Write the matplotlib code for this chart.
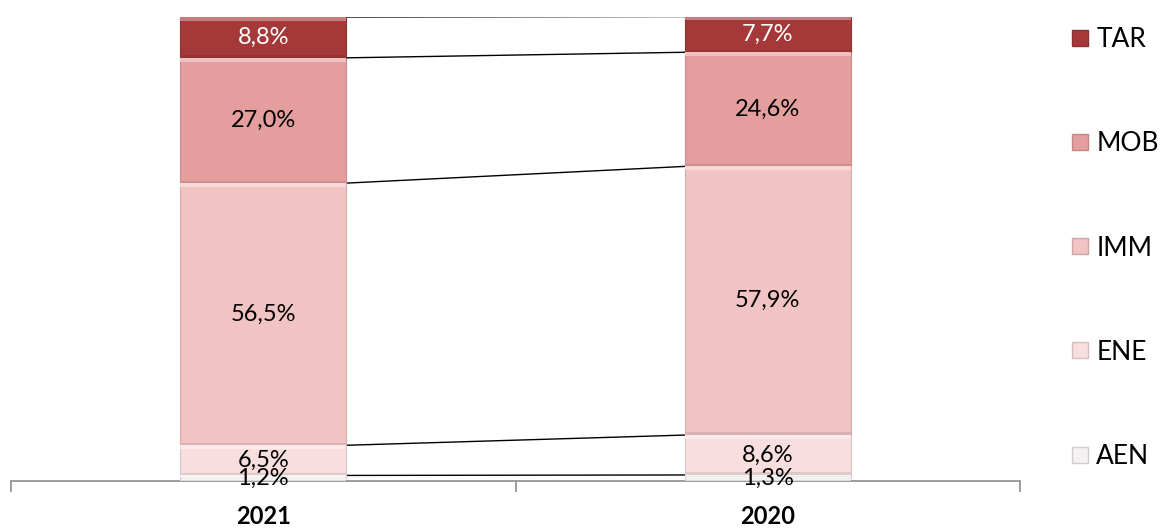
import numpy as np
import matplotlib.pyplot as plt
from matplotlib.patches import Rectangle
from matplotlib.lines import Line2D

plt.rcParams['font.family'] = ['Lato', 'DejaVu Sans']

# data (bottom to top)
years = ['2021', '2020']
series = ['AEN', 'ENE', 'IMM', 'MOB', 'TAR']
values = {
    'AEN': [1.2, 1.3],
    'ENE': [6.5, 8.6],
    'IMM': [56.5, 57.9],
    'MOB': [27.0, 24.6],
    'TAR': [8.8, 7.7],
}
colors = {
    'AEN': '#F3F1F1',
    'ENE': '#F8DEDE',
    'IMM': '#F2C3C3',
    'MOB': '#E59E9E',
    'TAR': '#A5393A',
}
text_colors = {'AEN': 'black', 'ENE': 'black', 'IMM': 'black', 'MOB': 'black', 'TAR': 'white'}


def lighten(c, f):
    rgb = np.array(plt.matplotlib.colors.to_rgb(c))
    return tuple(rgb + (1 - rgb) * f)


def darken(c, f):
    rgb = np.array(plt.matplotlib.colors.to_rgb(c))
    return tuple(rgb * (1 - f))


fig = plt.figure(figsize=(11.64, 5.30), dpi=100)
ax = fig.add_axes([11 / 1164, 1 - 481 / 530, 1009 / 1164, 464 / 530])

x = np.arange(len(years))
width = 0.33
bottom = np.zeros(len(years))
for s in series:
    vals = np.array(values[s])
    bars = ax.bar(x, vals, width, bottom=bottom, color=colors[s],
                  edgecolor=darken(colors[s], 0.12), linewidth=0.8, zorder=2)
    # bevel: light band at top, darker band at bottom
    for b in bars:
        bx, by, bw, bh = b.get_x(), b.get_y(), b.get_width(), b.get_height()
        band = min(0.8, bh * 0.25)
        ax.add_patch(Rectangle((bx, by + bh - band), bw, band,
                               facecolor=lighten(colors[s], 0.35), edgecolor='none', zorder=3))
        ax.add_patch(Rectangle((bx, by), bw, band * 0.7,
                               facecolor=darken(colors[s], 0.1), edgecolor='none', zorder=3))
    for xi, v, b0 in zip(x, vals, bottom):
        ax.text(xi, b0 + v / 2, f"{v:.1f}".replace('.', ',') + '%',
                ha='center', va='center', fontsize=17, color=text_colors[s], zorder=5)
    bottom = bottom + vals
    # series lines between bars
    ax.plot([x[0] + width / 2, x[1] - width / 2], [bottom[0], bottom[1]],
            color='black', linewidth=1.0, zorder=1)

ax.set_xlim(-0.5, 1.5)
ax.set_ylim(0, 100)
ax.set_yticks([])
for sp in ['top', 'right', 'left']:
    ax.spines[sp].set_visible(False)
ax.spines['bottom'].set_color('#8C8C8C')
ax.spines['bottom'].set_linewidth(1.2)

ax.set_xticks([-0.5, 0.5, 1.5])
ax.set_xticklabels([])
ax.tick_params(axis='x', which='major', length=8, color='#8C8C8C', width=1.2)
ax.set_xticks(x, minor=True)
ax.set_xticklabels(years, minor=True, fontsize=17, fontweight='bold')
ax.tick_params(axis='x', which='minor', length=0, pad=17)

leg_handles = [Line2D([], [], marker='s', linestyle='none', markersize=12,
                      markerfacecolor=colors[s], markeredgecolor=darken(colors[s], 0.15))
               for s in series[::-1]]
fig.legend(leg_handles, series[::-1], loc='center left',
           bbox_to_anchor=(1046 / 1164, 1 - 248 / 530), frameon=False,
           fontsize=19, labelspacing=3.0, handlelength=0.8, handletextpad=0.2)

fig.savefig('out.png', dpi=100)
